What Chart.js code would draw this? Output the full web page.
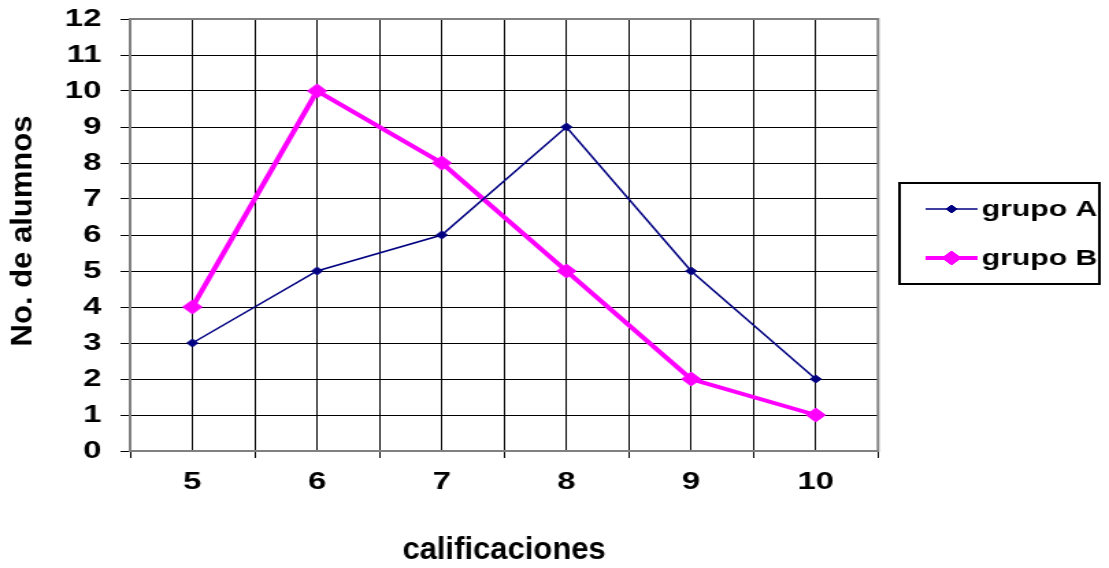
<!DOCTYPE html>
<html lang="es">
<head>
<meta charset="utf-8">
<title>No. de alumnos por calificación</title>
<script src="https://cdn.jsdelivr.net/npm/chart.js@4/dist/chart.umd.min.js"></script>
<style>
  html, body { margin: 0; padding: 0; background: #fff; }
  #wrap { width: 1109px; height: 568px; }
  /* the reference picture is stretched sideways, so the canvas is too */
  #chart { display: block; width: 1109px; height: 568px; }
</style>
</head>
<body>
<div id="wrap">
  <canvas id="chart" width="810" height="568" style="width:1109px;height:568px"></canvas>
</div>
<script>
'use strict';

const calificaciones = ['5', '6', '7', '8', '9', '10'];
const grupoA = [3, 5, 6, 9, 5, 2];
const grupoB = [4, 10, 8, 5, 2, 1];
const yTicks = [0, 1, 2, 3, 4, 5, 6, 7, 8, 9, 10, 11, 12];

const FONT = "'Liberation Sans', Arial, sans-serif";
const STRETCH = 1109 / 810;

function toPoints(values) {
  return values.map(function (v, i) {
    return { x: Number(calificaciones[i]), y: v };
  });
}

// gray frame round the plot area
const plotFrame = {
  id: 'plotFrame',
  beforeDatasetsDraw: function (chart) {
    const a = chart.chartArea;
    const ctx = chart.ctx;
    ctx.save();
    ctx.strokeStyle = '#808080';
    ctx.lineWidth = 2;
    ctx.strokeRect(a.left, a.top, a.right - a.left, a.bottom - a.top);
    ctx.restore();
  }
};

// axis titles in the reference are not stretched, so undo the canvas stretch for them
const flatTitles = {
  id: 'flatTitles',
  afterDraw: function (chart) {
    const ctx = chart.ctx;
    const a = chart.chartArea;
    const xTitle = chart.options.scales.x.title.text;
    const yTitle = chart.options.scales.y.title.text;
    ctx.save();
    ctx.fillStyle = '#000';
    ctx.font = 'bold 31px ' + FONT;
    ctx.textAlign = 'center';
    ctx.textBaseline = 'middle';

    ctx.save();
    ctx.translate((a.left + a.right) / 2, 550);
    ctx.scale(1 / STRETCH, 1);
    ctx.fillText(xTitle, 0, 0);
    ctx.restore();

    ctx.save();
    ctx.translate(17, 231);
    ctx.scale(1 / STRETCH, 1);
    ctx.rotate(-Math.PI / 2);
    ctx.fillText(yTitle, 0, 0);
    ctx.restore();

    ctx.restore();
  }
};

// boxed legend with line + marker, like the spreadsheet one
const boxLegend = {
  id: 'boxLegend',
  afterDraw: function (chart) {
    const ctx = chart.ctx;
    const box = { left: 657, top: 183, right: 803, bottom: 284 };
    const rows = [209, 258];
    ctx.save();
    ctx.strokeStyle = '#000';
    ctx.lineWidth = 2;
    ctx.strokeRect(box.left, box.top, box.right - box.left, box.bottom - box.top);

    chart.data.datasets.forEach(function (ds, i) {
      const y = rows[i];
      ctx.strokeStyle = ds.borderColor;
      ctx.lineWidth = ds.borderWidth;
      ctx.beginPath();
      ctx.moveTo(676, y);
      ctx.lineTo(714, y);
      ctx.stroke();

      ctx.fillStyle = ds.pointBackgroundColor;
      ctx.strokeStyle = ds.pointBorderColor;
      ctx.lineWidth = 1;
      Chart.helpers.drawPoint(ctx, {
        pointStyle: 'rectRot',
        radius: ds.pointRadius,
        rotation: 0,
        borderWidth: 1
      }, 695, y);

      ctx.fillStyle = '#000';
      ctx.font = 'bold 22px ' + FONT;
      ctx.textAlign = 'left';
      ctx.textBaseline = 'middle';
      ctx.fillText(ds.label, 717, y + 1);
    });
    ctx.restore();
  }
};

const ctx = document.getElementById('chart').getContext('2d');
new Chart(ctx, {
  type: 'line',
  data: {
    datasets: [{
      label: 'grupo A',
      data: toPoints(grupoA),
      borderColor: '#000080',
      backgroundColor: '#000080',
      pointBackgroundColor: '#000080',
      pointBorderColor: '#000080',
      borderWidth: 1.5,
      pointStyle: 'rectRot',
      pointRadius: 4,
      pointBorderWidth: 1,
      tension: 0,
      fill: false
    }, {
      label: 'grupo B',
      data: toPoints(grupoB),
      borderColor: '#FF00FF',
      backgroundColor: '#FF00FF',
      pointBackgroundColor: '#FF00FF',
      pointBorderColor: '#FF00FF',
      borderWidth: 4,
      pointStyle: 'rectRot',
      pointRadius: 7,
      pointBorderWidth: 1,
      tension: 0,
      fill: false
    }]
  },
  options: {
    responsive: false,
    devicePixelRatio: 1,
    animation: false,
    layout: {
      padding: { left: 0, top: 19, right: 168.7, bottom: 0 }
    },
    plugins: {
      legend: { display: false },
      tooltip: { enabled: false }
    },
    scales: {
      x: {
        type: 'linear',
        min: Number(calificaciones[0]) - 0.5,
        max: Number(calificaciones[calificaciones.length - 1]) + 0.5,
        afterFit: function (scale) {
          scale.height = 117;
          scale.paddingLeft = 0;
          scale.paddingRight = 0;
        },
        border: { display: true, color: '#606060', width: 2 },
        grid: {
          color: '#000',
          lineWidth: 1,
          tickLength: 7,
          tickColor: function (c) {
            return Number.isInteger(c.tick.value) ? 'rgba(0,0,0,0)' : '#000';
          }
        },
        ticks: {
          stepSize: 0.5,
          autoSkip: false,
          maxRotation: 0,
          padding: 10,
          color: '#000',
          font: { family: FONT, size: 24, weight: 'bold' },
          callback: function (v) {
            const i = calificaciones.findIndex(function (c) { return Number(c) === v; });
            return i >= 0 ? calificaciones[i] : '';
          }
        },
        title: { display: false, text: 'calificaciones' }
      },
      y: {
        min: yTicks[0],
        max: yTicks[yTicks.length - 1],
        afterFit: function (scale) {
          scale.width = 95;
          scale.paddingTop = 0;
          scale.paddingBottom = 0;
        },
        afterBuildTicks: function (scale) {
          scale.ticks = yTicks.map(function (v) { return { value: v }; });
        },
        border: { display: true, color: '#808080', width: 2 },
        grid: {
          color: '#000',
          lineWidth: 1,
          tickLength: 7,
          tickColor: '#000'
        },
        ticks: {
          padding: 14,
          color: '#000',
          font: { family: FONT, size: 24, weight: 'bold' }
        },
        title: { display: false, text: 'No. de alumnos' }
      }
    }
  },
  plugins: [plotFrame, flatTitles, boxLegend]
});
</script>
</body>
</html>
